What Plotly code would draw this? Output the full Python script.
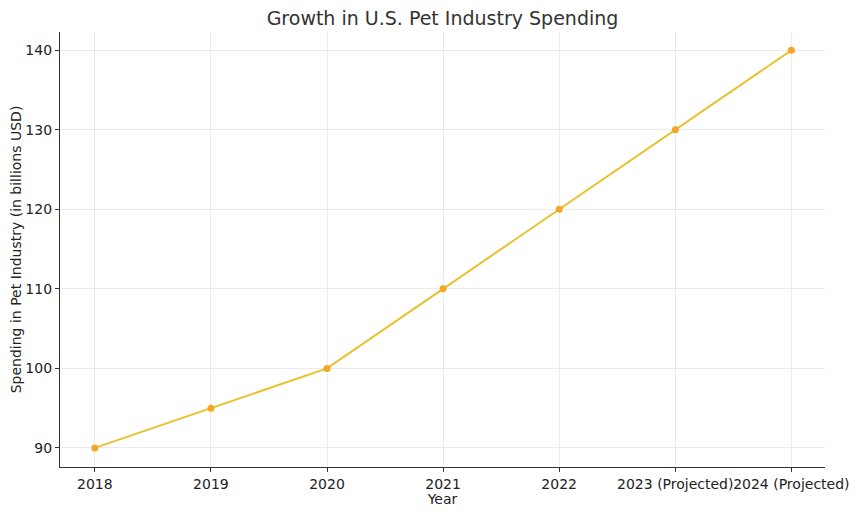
import plotly.graph_objects as go

years = ['2018', '2019', '2020', '2021', '2022', '2023 (Projected)', '2024 (Projected)']
spending = [90, 95, 100, 110, 120, 130, 140]
y_ticks = [90, 100, 110, 120, 130, 140]

fig = go.Figure()

fig.add_trace(go.Scatter(x=years, y=spending,
                         mode='lines+markers',
                         line=dict(color='#e8c22c', width=2),
                         marker=dict(color='#f5a623', size=7),
                         name='Spending'))

# the page has an 8px body margin, so the figure is a bit smaller than the window
fig.update_layout(
    width=844, height=499,
    margin=dict(l=52, r=27, t=24, b=40, autoexpand=False),
    paper_bgcolor='white', plot_bgcolor='white',
    showlegend=False,
    font=dict(family='DejaVu Sans', size=14, color='#222'),
    title=dict(text='Growth in U.S. Pet Industry Spending',
               font=dict(size=19, color='#333'),
               xref='paper', x=0.5, xanchor='center',
               y=0.979, yanchor='middle'),
)

fig.update_xaxes(
    type='category', range=[-0.3, 6.29],
    tickangle=0, automargin=False,
    showgrid=True, gridcolor='#ebebeb', gridwidth=1,
    showline=True, linecolor='#333', linewidth=1.2,
    ticks='outside', ticklen=4, tickcolor='#333',
    title=dict(text='Year', font=dict(size=14), standoff=2),
    zeroline=False,
)
fig.update_yaxes(
    range=[87.6, 142.3], tickvals=y_ticks, automargin=False,
    showgrid=True, gridcolor='#ebebeb', gridwidth=1,
    showline=True, linecolor='#333', linewidth=1.2,
    ticks='outside', ticklen=4, tickcolor='#333',
    title=dict(text='Spending in Pet Industry (in billions USD)', font=dict(size=14), standoff=6),
    zeroline=False,
)

fig.write_html("out.html")
